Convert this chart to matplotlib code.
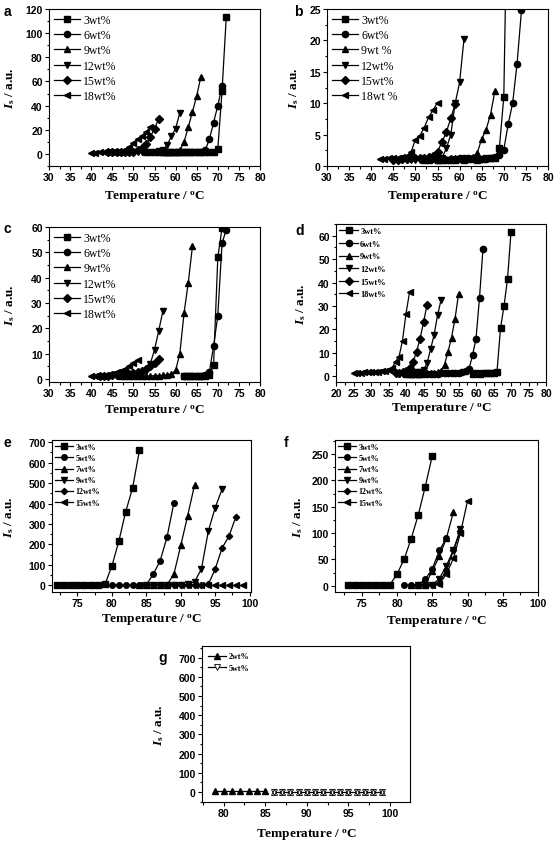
import numpy as np
import matplotlib.pyplot as plt
from matplotlib.ticker import MultipleLocator, AutoMinorLocator

plt.rcParams['mathtext.fontset'] = 'custom'
plt.rcParams['mathtext.rm'] = 'Liberation Serif:bold'
plt.rcParams['mathtext.it'] = 'Liberation Serif:italic:bold'

# ---- data (temperature starts, intensities) ----
a_labels = ["3wt%", "6wt%", "9wt%", "12wt%", "15wt%", "18wt%"]
a_t0 = [57, 58, 53, 48, 44, 40]
a_y = [
    [1.5, 1.4, 1.5, 1.5, 1.6, 1.5, 1.5, 1.6, 1.5, 1.6, 1.7, 1.8, 1.9, 4, 52, 113],
    [1.3, 1.4, 1.3, 1.4, 1.5, 1.4, 1.5, 1.6, 1.7, 3, 12, 26, 40, 56],
    [1.4, 1.3, 1.5, 1.4, 1.5, 1.6, 1.5, 1.7, 3, 10, 22, 35, 48, 64],
    [1.2, 1.3, 1.2, 1.4, 1.3, 1.5, 1.6, 1.8, 2.2, 3.5, 7, 15, 21, 34],
    [1.2, 1.2, 1.3, 1.3, 1.4, 1.6, 2.0, 3, 4.5, 8, 14, 21, 29],
    [1.1, 1.1, 1.2, 1.2, 1.3, 1.4, 1.6, 2.0, 3.5, 6, 9, 12, 15, 18, 22],
]

b_labels = ["3wt%", "6wt%", "9wt %", "12wt%", "15wt%", "18wt %"]
b_t0 = [55, 58, 52, 47, 45, 42]
b_y = [
    [1.0, 1.0, 0.9, 1.0, 1.0, 1.1, 1.0, 1.1, 1.1, 1.0, 1.1, 1.2, 1.2, 1.3, 2.9, 11, 52],
    [1.1, 1.1, 1.2, 1.2, 1.2, 1.3, 1.2, 1.1, 1.1, 1.2, 1.4, 1.7, 2.6, 6.7, 10, 16.3, 24.8],
    [1.0, 1.0, 1.1, 1.0, 1.1, 1.1, 1.2, 1.2, 1.2, 1.3, 1.3, 1.4, 2.1, 4.3, 5.8, 8.2, 12],
    [0.9, 0.9, 1.0, 1.0, 1.0, 1.0, 1.1, 1.1, 1.2, 1.3, 2.8, 5, 10, 13.3, 20.3],
    [1.0, 1.0, 1.1, 1.1, 1.2, 1.2, 1.3, 1.3, 1.4, 1.6, 2.3, 3.8, 5.4, 7.6, 9.9],
    [1.1, 1.1, 1.2, 1.2, 1.3, 1.4, 1.6, 2.2, 4.2, 4.8, 6.1, 7.8, 8.9, 10.1],
]

c_labels = ["3wt%", "6wt%", "9wt%", "12wt%", "15wt%", "18wt%"]
c_t0 = [62, 62, 47, 45, 42, 40]
c_y = [
    [1.0, 1.0, 1.1, 1.1, 1.2, 1.3, 1.6, 5.5, 48, 59.5],
    [1.1, 1.1, 1.2, 1.2, 1.3, 1.5, 2.8, 13, 25, 53.5, 59],
    [1.0, 1.0, 1.0, 1.1, 1.1, 1.1, 1.2, 1.2, 1.3, 1.3, 1.4, 1.6, 2.0, 3.4, 10, 26, 38, 52.5],
    [1.0, 1.0, 1.1, 1.1, 1.2, 1.3, 1.5, 2.0, 3.0, 6, 11.5, 19, 27],
    [1.2, 1.3, 1.3, 1.4, 1.5, 1.6, 1.8, 2.0, 2.3, 2.7, 3.2, 4, 5, 6.3, 8],
    [1.0, 1.0, 1.1, 1.2, 1.5, 2.0, 2.6, 3.3, 4.1, 5.0, 6.2, 7.5],
]

d_labels = ["3wt%", "6wt%", "9wt%", "12wt%", "15wt%", "18wt%"]
d_t0 = [59, 41, 40, 38, 37, 25]
d_y = [
    [1.2, 1.3, 1.2, 1.5, 1.3, 1.4, 1.6, 2.0, 20.5, 30, 41.5, 61.5],
    [1.0, 1.0, 1.1, 1.1, 1.1, 1.2, 1.2, 1.2, 1.2, 1.3, 1.3, 1.3, 1.4, 1.4, 1.5, 1.8, 2.3,
     3.2, 9, 16, 33.5, 54.5],
    [1.0, 1.1, 1.1, 1.2, 1.2, 1.3, 1.3, 1.4, 1.5, 1.8, 2.5, 5, 10.5, 16.5, 24.5, 35],
    [1.2, 1.2, 1.3, 1.4, 1.5, 1.7, 2.0, 2.8, 5.5, 11.5, 17.5, 26, 32.5],
    [1.5, 1.6, 1.8, 2.2, 3.5, 6, 10.5, 16, 23, 30.5],
    [1.5, 1.6, 1.6, 1.7, 1.7, 1.8, 1.9, 2.0, 2.2, 2.5, 2.9, 3.5, 6.3, 8.3, 15.3, 26.8, 35.8],
]

e_labels = ["3wt%", "5wt%", "7wt%", "9wt%", "12wt%", "15wt%"]
e_t0 = [72, 80, 84, 85, 88, 84]
e_y = [
    [2, 2, 2, 2, 2, 2, 3, 6, 95, 215, 360, 475, 660],
    [2, 2, 2, 2, 2, 3, 55, 120, 235, 403],
    [2, 2, 2, 2, 3, 55, 195, 340, 490],
    [2, 2, 2, 2, 2, 3, 5, 18, 80, 265, 380, 470],
    [2, 2, 2, 2, 3, 3, 5, 80, 183, 240, 335],
    [2, 2, 2, 2, 2, 2, 2, 2, 2, 2, 2, 2, 2, 2, 2, 2],
]

f_labels = ["3wt%", "5wt%", "7wt%", "9wt%", "12wt%", "15wt%"]
f_t0 = [73, 81, 82, 83, 83, 84]
f_y = [
    [1, 1, 1, 1, 1, 1, 2, 22, 50, 89, 134, 188, 247],
    [1, 1, 2, 12, 32, 67, 90],
    [1, 1, 2, 28, 56, 90, 140],
    [1, 1, 2, 13, 38, 68, 108],
    [1, 1, 1, 5, 30, 67, 104],
    [1, 1, 3, 22, 52, 100, 161],
]

g_labels = ["2wt%", "5wt%"]
g_t0 = [79, 86]
g_y = [
    [3, 3, 3, 3, 3, 3, 3],
    [0, 0, 0, 0, 0, 0, 0, 0, 0, 0, 0, 0, 0, 0],
]

markers = ['s', 'o', '^', 'v', 'D', '<']

W, H = 556, 845
fig = plt.figure(figsize=(W / 100, H / 100), dpi=100)


def make_ax(l, t, r, b):
    return fig.add_axes([l / W, 1 - b / H, (r - l) / W, (b - t) / H])


def style(ax, box, xlim, ylim, xstep, ystep, letter, letter_xy, ylab_x, xlab_y):
    l, t, r, b = box
    ax.set_xlim(*xlim)
    ax.set_ylim(*ylim)
    ax.xaxis.set_major_locator(MultipleLocator(xstep))
    ax.yaxis.set_major_locator(MultipleLocator(ystep))
    ax.xaxis.set_minor_locator(AutoMinorLocator(2))
    ax.yaxis.set_minor_locator(AutoMinorLocator(2))
    ax.tick_params(which='major', direction='out', length=3, width=0.8, pad=1.5,
                   labelsize=7.5)
    ax.tick_params(which='minor', direction='out', length=1.8, width=0.8)
    for lab in ax.get_xticklabels() + ax.get_yticklabels():
        lab.set_fontfamily('Liberation Sans')
        lab.set_fontweight('bold')
    for s in ax.spines.values():
        s.set_linewidth(0.8)
    ax.set_xlabel("Temperature / $^{\\mathrm{o}}$C", family='Liberation Serif',
                  weight='bold', fontsize=9.5, va='center')
    ax.set_ylabel("$I_{\\mathrm{s}}$ / a.u.", family='Liberation Serif',
                  weight='bold', fontsize=9.5, va='center')
    ax.xaxis.set_label_coords(0.5, -(xlab_y - b) / (b - t), transform=ax.transAxes)
    ax.yaxis.set_label_coords((ylab_x - l) / (r - l), 0.5, transform=ax.transAxes)
    fig.text(letter_xy[0] / W, 1 - letter_xy[1] / H, letter, family='Liberation Sans',
             weight='bold', fontsize=10, ha='left', va='center')


def draw(ax, t0s, ys, labels, ms, leg_fs, leg_bold, leg_sp):
    for i in range(len(ys)):
        x = np.arange(t0s[i], t0s[i] + len(ys[i]))
        m = markers[i]
        ax.plot(x, ys[i], '-', color='black', lw=0.9, marker=m,
                ms=ms * (0.8 if m == 'D' else 1), mfc='black', mec='black',
                label=labels[i])
    ax.legend(loc='upper left', frameon=False, numpoints=1, handlelength=2.2,
              handletextpad=0.3, labelspacing=leg_sp, borderaxespad=0.2, borderpad=0.2,
              prop={'family': 'Liberation Serif', 'size': leg_fs,
                    'weight': 'bold' if leg_bold else 'normal'})


# a
box = (49, 10, 260, 167)
ax = make_ax(*box)
draw(ax, a_t0, a_y, a_labels, 4.5, 8.5, False, 0.28)
style(ax, box, (30, 80), (-10, 120), 5, 20, 'a', (4, 12), 10, 197)

# b
box = (327, 10, 548, 167)
ax = make_ax(*box)
draw(ax, b_t0, b_y, b_labels, 4.5, 8.5, False, 0.28)
style(ax, box, (30, 80), (0, 25), 5, 5, 'b', (294, 12), 294, 197)

# c
box = (49, 228, 260, 383)
ax = make_ax(*box)
draw(ax, c_t0, c_y, c_labels, 4.5, 8.5, False, 0.28)
style(ax, box, (30, 80), (-1.2, 60), 5, 10, 'c', (4, 229), 10, 411)

# d
box = (336, 225, 546, 383)
ax = make_ax(*box)
draw(ax, d_t0, d_y, d_labels, 4.5, 6, True, 0.55)
style(ax, box, (20, 80), (-2.4, 65), 5, 10, 'd', (295, 231), 301, 409)

# e
box = (52, 441, 251, 593)
ax = make_ax(*box)
draw(ax, e_t0, e_y, e_labels, 4, 5.8, True, 0.38)
style(ax, box, (71.3, 100.2), (-32, 710), 5, 100, 'e', (3, 443), 9, 620)

# f
box = (335, 441, 538, 593)
ax = make_ax(*box)
draw(ax, f_t0, f_y, f_labels, 4, 5.8, True, 0.38)
style(ax, box, (71.2, 100), (-12, 277), 5, 50, 'f', (284, 443), 298, 622)

# g
box = (202, 647, 410, 803)
ax = make_ax(*box)
x2 = np.arange(g_t0[0], g_t0[0] + len(g_y[0]))
x5 = np.arange(g_t0[1], g_t0[1] + len(g_y[1]))
ax.plot(x2, g_y[0], '-', color='black', lw=0.9, marker='^', ms=4.5, mfc='black',
        mec='black', label=g_labels[0])
ax.plot(x5, g_y[1], '-', color='black', lw=0.9, marker='v', ms=4.5, mfc='white',
        mec='black', mew=0.6, label=g_labels[1])
ax.plot(x5, g_y[1], 'none', marker='^', ms=4.5, mfc='none', mec='black', mew=0.6)
ax.legend(loc='upper left', frameon=False, numpoints=1, handlelength=2.2,
          handletextpad=0.3, labelspacing=0.45, borderaxespad=0.6, borderpad=0.2,
          prop={'family': 'Liberation Serif', 'size': 5.8, 'weight': 'bold'})
style(ax, box, (77.4, 102.4), (-52, 760), 5, 100, 'g', (158, 658), 159, 835)

plt.savefig('out.png', dpi=100)
